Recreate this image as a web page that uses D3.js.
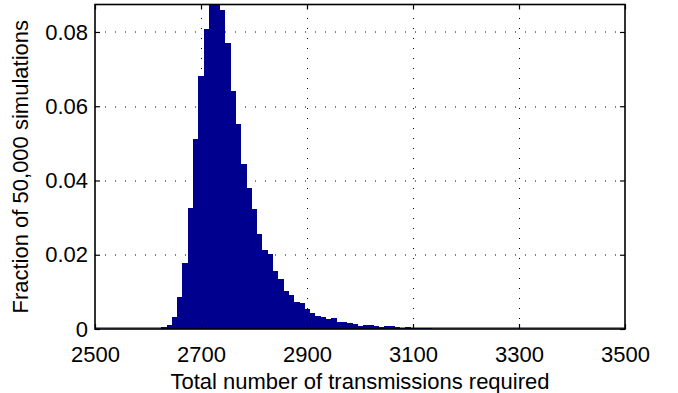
<!DOCTYPE html>
<html>
<head>
<meta charset="utf-8">
<script src="https://cdn.jsdelivr.net/npm/d3@7"></script>
<style>
  body { margin: 0; background: #fff; }
  svg { display: block; font-family: "Liberation Sans", Arial, sans-serif; }
</style>
</head>
<body>
<div id="chart"></div>
<script>
// histogram bins (centre of each 10-wide bin) and the fraction in each
const binCenters = [
    2620, 2630, 2640, 2650, 2660, 2670, 2680, 2690, 2700, 2710,
    2720, 2730, 2740, 2750, 2760, 2770, 2780, 2790, 2800, 2810,
    2820, 2830, 2840, 2850, 2860, 2870, 2880, 2890, 2900, 2910,
    2920, 2930, 2940, 2950, 2960, 2970, 2980, 2990, 3000, 3010,
    3020, 3030, 3040, 3050, 3060, 3070, 3080, 3090, 3100, 3110,
    3120, 3130, 3140, 3150, 3160, 3170, 3180
];
const fractions = [
    0.0001, 0.0006, 0.0011, 0.0033, 0.0087, 0.0177, 0.0327, 0.0511, 0.0681, 0.0809,
    0.0890, 0.0885, 0.0859, 0.0769, 0.0641, 0.0551, 0.0444, 0.0381, 0.0322, 0.0256,
    0.0213, 0.0202, 0.0156, 0.0135, 0.0102, 0.0091, 0.0074, 0.0071, 0.0054, 0.0044,
    0.0035, 0.0031, 0.0027, 0.0029, 0.0020, 0.0018, 0.0017, 0.0013, 0.0009, 0.0010,
    0.0010, 0.0008, 0.0006, 0.0008, 0.0007, 0.0005, 0.0004, 0.0005, 0.0003, 0.0004,
    0.0002, 0.0002, 0.0001, 0.0001, 0.0001, 0.0001, 0.0001
];
const binWidth = 10;
const xTicks = [2500, 2700, 2900, 3100, 3300, 3500];
const yTicks = [0, 0.02, 0.04, 0.06, 0.08];
const xDomain = [2500, 3500];
const yDomain = [0, 0.0874];

const data = binCenters.map((c, i) => ({ c, v: fractions[i] }));

const W = 678, H = 393;
const margin = { top: 4.5, right: 53, bottom: 64, left: 95 };
const width = W - margin.left - margin.right;
const height = H - margin.top - margin.bottom;
const barColor = '#00008f';
const fontSize = 22;

const svg = d3.select('#chart').append('svg')
    .attr('width', W)
    .attr('height', H);

svg.append('rect').attr('width', W).attr('height', H).attr('fill', '#fff');

svg.append('defs').append('clipPath').attr('id', 'plotClip')
    .append('rect').attr('width', width).attr('height', height);

const g = svg.append('g')
    .attr('transform', `translate(${margin.left},${margin.top})`);

const x = d3.scaleLinear().domain(xDomain).range([0, width]);
const y = d3.scaleLinear().domain(yDomain).range([height, 0]);

// dotted grid
const grid = g.append('g').attr('stroke', '#000').attr('stroke-width', 1)
    .attr('stroke-dasharray', '1,9');
grid.selectAll('.gx')
    .data(xTicks.slice(1, -1))
    .join('line')
    .attr('x1', d => Math.round(x(d)) + 0.5).attr('x2', d => Math.round(x(d)) + 0.5)
    .attr('y1', height).attr('y2', 0);
grid.selectAll('.gy')
    .data(yTicks.slice(1))
    .join('line')
    .attr('y1', d => Math.round(y(d)) + 0.5).attr('y2', d => Math.round(y(d)) + 0.5)
    .attr('x1', 0).attr('x2', width);

// bars
const bars = g.append('g').attr('clip-path', 'url(#plotClip)')
    .attr('shape-rendering', 'crispEdges');
bars.selectAll('rect')
    .data(data)
    .join('rect')
    .attr('x', d => x(d.c - binWidth / 2))
    .attr('width', d => x(d.c + binWidth / 2) - x(d.c - binWidth / 2) + 0.5)
    .attr('y', d => y(d.v))
    .attr('height', d => height - y(d.v))
    .attr('fill', barColor);

// empty bins show as a line on the baseline
g.append('line')
    .attr('x1', 0).attr('x2', width)
    .attr('y1', height - 1).attr('y2', height - 1)
    .attr('stroke', barColor).attr('stroke-width', 1);

// axes (ticks pointing inward, box on)
const tickLen = 5;
g.append('g')
    .attr('transform', `translate(0,${height})`)
    .call(d3.axisBottom(x).tickValues(xTicks).tickFormat(d3.format('d'))
        .tickSizeInner(-tickLen).tickSizeOuter(0).tickPadding(17));
g.append('g')
    .call(d3.axisLeft(y).tickValues(yTicks).tickFormat(d => d === 0 ? '0' : d3.format('.2f')(d))
        .tickSizeInner(-tickLen).tickSizeOuter(0).tickPadding(7));
g.append('g')
    .call(d3.axisTop(x).tickValues(xTicks).tickFormat('').tickSizeInner(-tickLen).tickSizeOuter(0));
g.append('g')
    .attr('transform', `translate(${width},0)`)
    .call(d3.axisRight(y).tickValues(yTicks).tickFormat('').tickSizeInner(-tickLen).tickSizeOuter(0));

g.selectAll('.domain').remove();
g.selectAll('.tick line').attr('stroke', '#000').attr('stroke-width', 1.2);
g.selectAll('.tick text')
    .attr('fill', '#000')
    .style('font-size', fontSize + 'px');

// frame
g.append('rect')
    .attr('width', width).attr('height', height)
    .attr('fill', 'none').attr('stroke', '#000').attr('stroke-width', 1.6);

// axis labels
svg.append('text')
    .attr('x', margin.left + width / 2)
    .attr('y', H - 4)
    .attr('text-anchor', 'middle')
    .style('font-size', fontSize + 'px')
    .text('Total number of transmissions required');

svg.append('text')
    .attr('transform', `translate(28,${margin.top + height / 2}) rotate(-90)`)
    .attr('text-anchor', 'middle')
    .style('font-size', fontSize + 'px')
    .text('Fraction of 50,000 simulations');
</script>
</body>
</html>
